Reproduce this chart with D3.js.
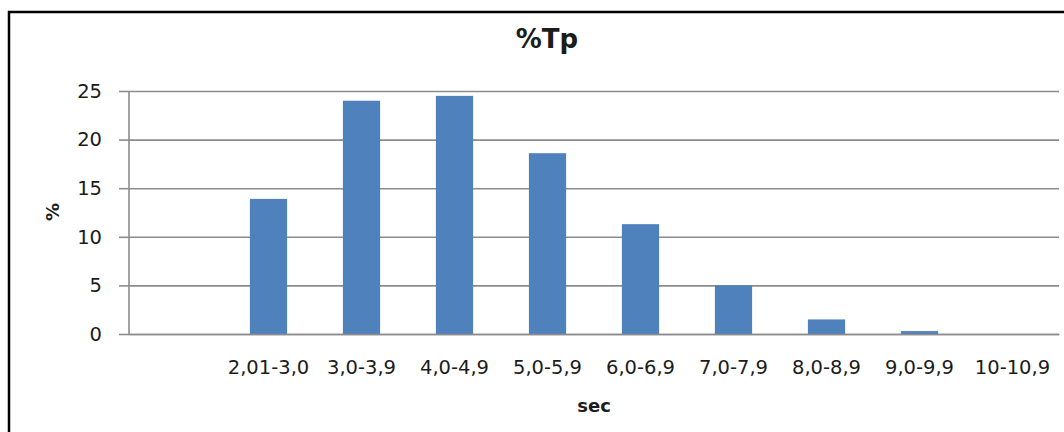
<!DOCTYPE html>
<html>
<head>
<meta charset="utf-8">
<script src="https://cdn.jsdelivr.net/npm/d3@7"></script>
<style>
  html, body { margin: 0; padding: 0; background: #fff; }
  svg { display: block; }
  text { font-family: "DejaVu Sans", sans-serif; fill: #1c1c1c; }
</style>
</head>
<body>
<svg id="chart" width="1064" height="432"></svg>
<script>
// Tp period classes (seconds) and share of records in each class (%)
const categories = ["", "2,01-3,0", "3,0-3,9", "4,0-4,9", "5,0-5,9", "6,0-6,9", "7,0-7,9", "8,0-8,9", "9,0-9,9", "10-10,9"];
const percents   = [0, 13.9, 24.0, 24.5, 18.6, 11.3, 5.0, 1.5, 0.3, 0];
const yTicks     = [0, 5, 10, 15, 20, 25];

const svg = d3.select("#chart");
const W = 1064, H = 432;
const plot = { left: 129, right: 1059, top: 91, bottom: 334 };
const gridColor = "#8c8c8c";
const labelSize = 19.5;

// outer chart frame
svg.append("rect")
  .attr("x", 9).attr("y", 12)
  .attr("width", W + 20).attr("height", H + 20)
  .attr("fill", "none").attr("stroke", "#000").attr("stroke-width", 2.5);

const x = d3.scaleBand()
  .domain(categories)
  .range([plot.left, plot.right])
  .paddingInner(0.6).paddingOuter(0.3);

const y = d3.scaleLinear().domain([0, 25]).range([plot.bottom, plot.top]);

// horizontal gridlines with outside tick marks
const yAxis = d3.axisLeft(y).tickValues(yTicks).tickSize(10).tickPadding(17).tickFormat(d3.format("d"));
const gy = svg.append("g").attr("transform", `translate(${plot.left},0)`).call(yAxis);
gy.select(".domain").remove();
gy.selectAll(".tick line").attr("stroke", gridColor).attr("stroke-width", 1.6);
gy.selectAll(".tick").append("line")
  .attr("x1", 0).attr("x2", plot.right - plot.left)
  .attr("stroke", gridColor).attr("stroke-width", 1.6);
gy.selectAll(".tick text")
  .attr("font-size", labelSize).attr("fill", "#1c1c1c")
  .attr("font-family", "'DejaVu Sans', sans-serif");

// vertical axis line
svg.append("line")
  .attr("x1", plot.left).attr("x2", plot.left)
  .attr("y1", plot.top).attr("y2", plot.bottom)
  .attr("stroke", gridColor).attr("stroke-width", 1.6);

// bars
svg.append("g").selectAll("rect")
  .data(categories.map((c, i) => ({ c, v: percents[i] })))
  .join("rect")
  .attr("x", d => x(d.c))
  .attr("width", x.bandwidth())
  .attr("y", d => y(d.v))
  .attr("height", d => y(0) - y(d.v))
  .attr("fill", "#4f81bd");

// category axis
const xAxis = d3.axisBottom(x).tickSize(0);
const gx = svg.append("g").attr("transform", `translate(0,${plot.bottom})`).call(xAxis);
gx.select(".domain").attr("stroke", gridColor).attr("stroke-width", 1.6);
gx.selectAll(".tick text")
  .attr("y", 40).attr("dy", 0)
  .attr("font-size", labelSize).attr("fill", "#1c1c1c")
  .attr("font-family", "'DejaVu Sans', sans-serif");

// titles
svg.append("text")
  .attr("x", 547).attr("y", 48)
  .attr("text-anchor", "middle")
  .attr("font-size", 26).attr("font-weight", "bold")
  .text("%Tp");

svg.append("text")
  .attr("x", 594).attr("y", 412)
  .attr("text-anchor", "middle")
  .attr("font-size", 18).attr("font-weight", "bold")
  .text("sec");

svg.append("text")
  .attr("transform", "translate(59,212) rotate(-90)")
  .attr("text-anchor", "middle")
  .attr("font-size", 18).attr("font-weight", "bold")
  .text("%");
</script>
</body>
</html>
